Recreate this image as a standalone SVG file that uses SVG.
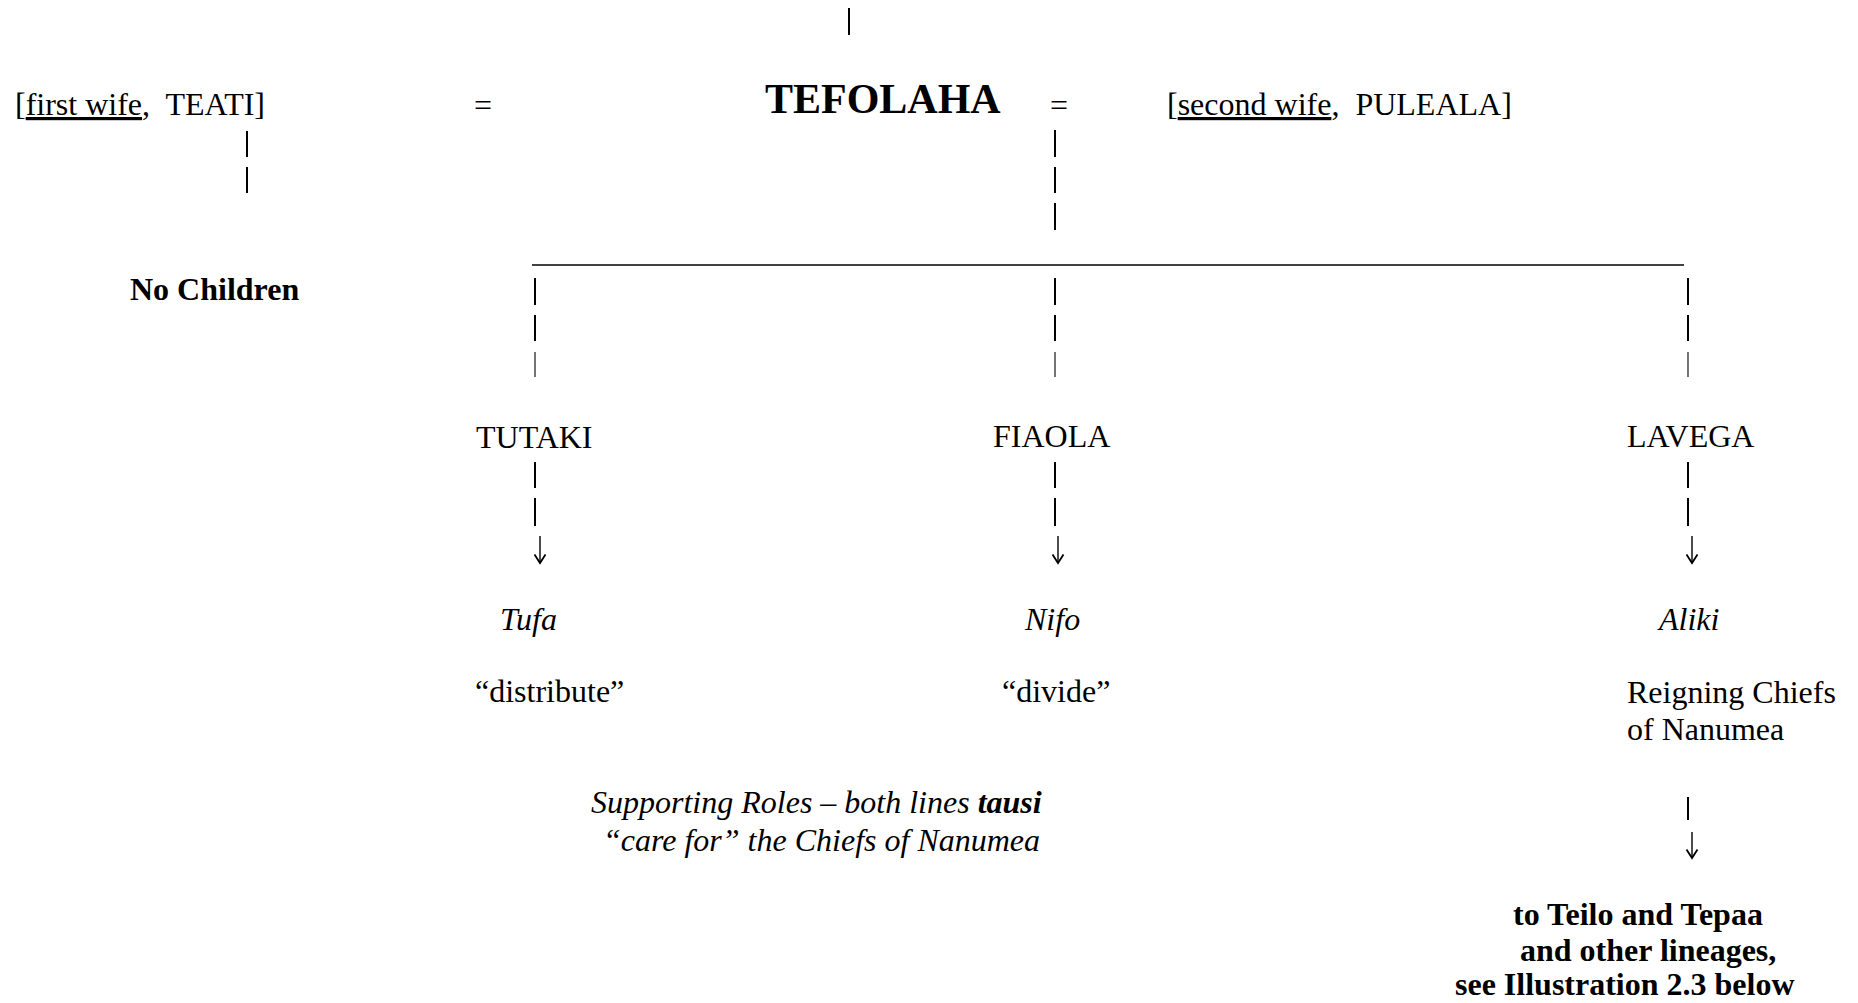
<svg xmlns="http://www.w3.org/2000/svg" width="1858" height="1003" viewBox="0 0 1858 1003">
<style>
  text { font-family: "Liberation Serif", "Times New Roman", serif; font-size: 32px; fill: #000; }
  .b { font-weight: bold; }
  .i { font-style: italic; }
  .big { font-size: 42px; font-weight: bold; }
  .u { text-decoration: underline; }
  .bar { stroke: #000; stroke-width: 2; }
  .thin { stroke: #000; stroke-width: 1.1; }
  .hl { stroke: #000; stroke-width: 1.5; }
  .arr { stroke: #000; stroke-width: 1.4; fill: none; }
</style>
<defs>
  <marker id="ah" markerUnits="userSpaceOnUse" markerWidth="16" markerHeight="14" viewBox="-8 -11 16 14" refX="0" refY="0" orient="0" overflow="visible">
    <path d="M-5.5,-8.5 L0,0 L5.5,-8.5" fill="none" stroke="#000" stroke-width="1.8"/>
  </marker>
</defs>
<rect width="1858" height="1003" fill="#fff"/>

<g id="connectors">
  <line class="bar" x1="849" y1="8" x2="849" y2="35"/>
  <text x="474" y="116">=</text>
  <text x="1050" y="116">=</text>
  <line class="bar" x1="247" y1="131" x2="247" y2="157"/>
  <line class="bar" x1="247" y1="167" x2="247" y2="193"/>
  <line class="bar" x1="1055" y1="130" x2="1055" y2="157"/>
  <line class="bar" x1="1055" y1="167" x2="1055" y2="193"/>
  <line class="bar" x1="1055" y1="203" x2="1055" y2="230"/>
  <line class="hl" x1="532" y1="265" x2="1684" y2="265"/>
  <line class="bar" x1="535" y1="278" x2="535" y2="305"/>
  <line class="bar" x1="535" y1="315" x2="535" y2="341"/>
  <line class="thin" x1="535" y1="352" x2="535" y2="377"/>
  <line class="bar" x1="1055" y1="278" x2="1055" y2="305"/>
  <line class="bar" x1="1055" y1="315" x2="1055" y2="341"/>
  <line class="thin" x1="1055" y1="352" x2="1055" y2="377"/>
  <line class="bar" x1="1688" y1="278" x2="1688" y2="305"/>
  <line class="bar" x1="1688" y1="315" x2="1688" y2="341"/>
  <line class="thin" x1="1688" y1="352" x2="1688" y2="377"/>
  <line class="bar" x1="535" y1="462" x2="535" y2="488"/>
  <line class="bar" x1="535" y1="498" x2="535" y2="526"/>
  <line class="arr" x1="540" y1="536" x2="540" y2="563" marker-end="url(#ah)"/>
  <line class="bar" x1="1055" y1="462" x2="1055" y2="488"/>
  <line class="bar" x1="1055" y1="498" x2="1055" y2="526"/>
  <line class="arr" x1="1058" y1="536" x2="1058" y2="563" marker-end="url(#ah)"/>
  <line class="bar" x1="1688" y1="462" x2="1688" y2="488"/>
  <line class="bar" x1="1688" y1="498" x2="1688" y2="526"/>
  <line class="arr" x1="1692" y1="536" x2="1692" y2="563" marker-end="url(#ah)"/>
  <line class="bar" x1="1688" y1="797" x2="1688" y2="820"/>
  <line class="arr" x1="1692" y1="832" x2="1692" y2="858" marker-end="url(#ah)"/>
</g>

<g id="teati"><text x="15" y="115" xml:space="preserve">[<tspan class="u">first wife</tspan>,  TEATI]</text></g>
<g id="tefolaha"><text class="big" x="765" y="113">TEFOLAHA</text></g>
<g id="puleala"><text x="1167" y="115" xml:space="preserve">[<tspan class="u">second wife</tspan>,  PULEALA]</text></g>
<g id="no-children"><text class="b" x="130" y="300">No Children</text></g>

<g id="tutaki"><text x="476" y="448">TUTAKI</text></g>
<g id="fiaola"><text x="993" y="447">FIAOLA</text></g>
<g id="lavega"><text x="1627" y="447">LAVEGA</text></g>

<g id="tufa">
  <text class="i" x="500" y="630">Tufa</text>
  <text x="475" y="702">“distribute”</text>
</g>
<g id="nifo">
  <text class="i" x="1025" y="630">Nifo</text>
  <text x="1002" y="702">“divide”</text>
</g>
<g id="aliki">
  <text class="i" x="1659" y="630">Aliki</text>
  <text x="1627" y="703">Reigning Chiefs</text>
  <text x="1627" y="740">of Nanumea</text>
</g>

<g id="supporting-roles">
  <text class="i" x="591" y="813">Supporting Roles – both lines <tspan class="b">tausi</tspan></text>
  <text class="i" x="603" y="851">“care for” the Chiefs of Nanumea</text>
</g>

<g id="teilo-tepaa">
  <text class="b" x="1513" y="925">to Teilo and Tepaa</text>
  <text class="b" x="1520" y="961">and other lineages,</text>
  <text class="b" x="1455" y="995">see Illustration 2.3 below</text>
</g>
</svg>
